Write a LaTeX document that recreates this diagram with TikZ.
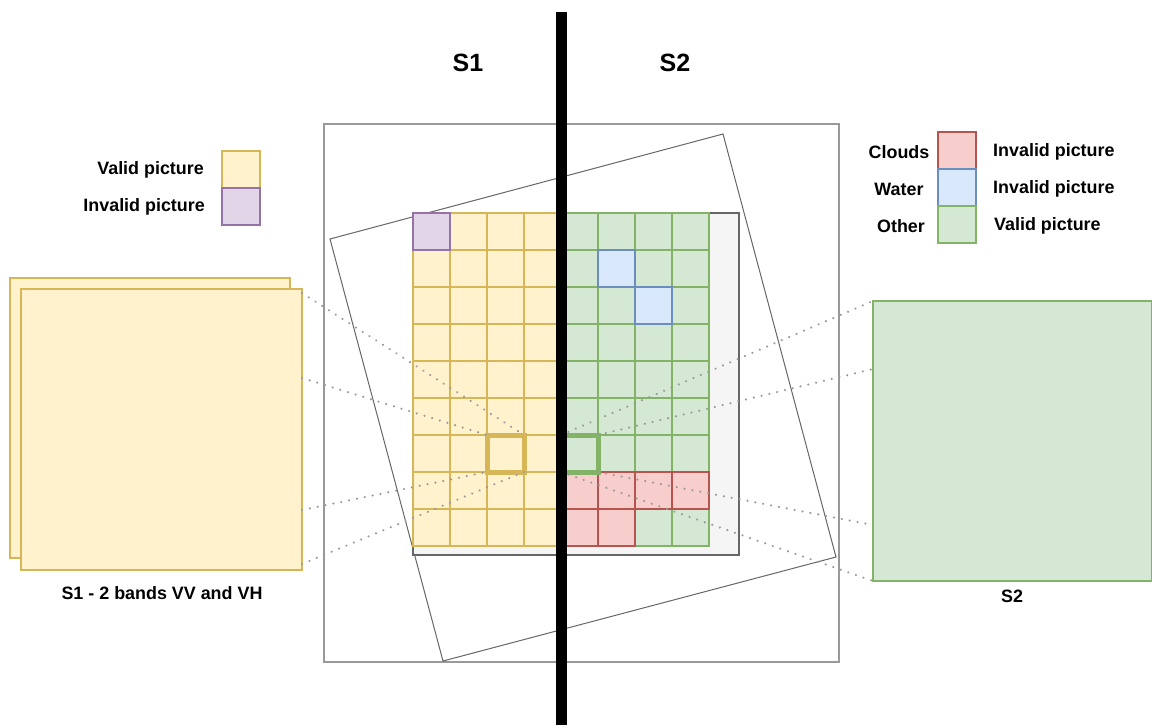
\documentclass[tikz,border=0pt]{standalone}
\usepackage{fontspec}
\setmainfont{Liberation Sans}
\definecolor{yfill}{HTML}{FFF2CC}
\definecolor{ydraw}{HTML}{D6B656}
\definecolor{gfill}{HTML}{D5E8D4}
\definecolor{gdraw}{HTML}{82B366}
\definecolor{rfill}{HTML}{F8CECC}
\definecolor{rdraw}{HTML}{B85450}
\definecolor{bfill}{HTML}{DAE8FC}
\definecolor{bdraw}{HTML}{6C8EBF}
\definecolor{pfill}{HTML}{E1D5E7}
\definecolor{pdraw}{HTML}{9673A6}
\definecolor{greyfill}{HTML}{F5F5F5}
\definecolor{greydraw}{HTML}{666666}
\definecolor{framecol}{HTML}{999999}
\definecolor{dotcol}{HTML}{999999}
\begin{document}
\begin{tikzpicture}[x=1pt,y=-1pt,line join=miter]
\useasboundingbox (0,0) rectangle (1152,725);
\tikzset{
  lbl/.style={font=\bfseries\fontsize{17.9}{20}\selectfont, inner sep=0pt},
  biglbl/.style={font=\bfseries\fontsize{25}{28}\selectfont, inner sep=0pt},
  box/.style={inner sep=0pt, outer sep=0pt, anchor=north west},
  framebox/.style={box, draw=framecol, line width=1.2pt},
  ycell/.style={fill=yfill, draw=ydraw, line width=1.3pt},
  gcell/.style={fill=gfill, draw=gdraw, line width=1.3pt},
  rcell/.style={fill=rfill, draw=rdraw, line width=1.3pt},
  bcell/.style={fill=bfill, draw=bdraw, line width=1.3pt},
  pcell/.style={fill=pfill, draw=pdraw, line width=1.3pt},
  hibox/.style={box, line width=5pt, minimum width=37pt, minimum height=37pt},
  dots/.style={draw=dotcol, line width=2.4pt, line cap=round, dash pattern=on 0.01pt off 8pt},
}
% outer frame and rotated scene
\node[framebox, minimum width=515pt, minimum height=538pt] (outer) at (324,124) {};
\draw[draw=greydraw, line width=1pt] (330,239) -- (723,134) -- (836,557) -- (443,661) -- cycle;
% grey grid background
\node[box, fill=greyfill, draw=greydraw, line width=1.3pt, minimum width=326pt, minimum height=342pt] (gridbg) at (413,213) {};
% cells
\foreach \c in {0,...,3}{\foreach \r in {0,...,8}{
  \draw[ycell] ({413+37*\c},{213+37*\r}) rectangle +(37,37);}}
\foreach \c in {4,...,7}{\foreach \r in {0,...,8}{
  \draw[gcell] ({413+37*\c},{213+37*\r}) rectangle +(37,37);}}
\draw[pcell] (413,213) rectangle +(37,37);
\draw[bcell] ({413+37*5},{213+37*1}) rectangle +(37,37);
\draw[bcell] ({413+37*6},{213+37*2}) rectangle +(37,37);
\foreach \c in {4,...,7}{\draw[rcell] ({413+37*\c},{213+37*7}) rectangle +(37,37);}
\foreach \c in {4,5}{\draw[rcell] ({413+37*\c},{213+37*8}) rectangle +(37,37);}
% highlighted cells
\node[hibox, draw=ydraw] (hy) at (487,435) {};
\node[hibox, draw=gdraw] (hg) at (561,435) {};
% left stacked squares
\node[box, fill=yfill, draw=ydraw, line width=1.3pt, minimum width=280pt, minimum height=280pt] (s1back) at (10,278) {};
\node[box, fill=yfill, draw=ydraw, line width=1.3pt, minimum width=281pt, minimum height=281pt] (s1front) at (21,289) {};
\node[lbl] (s1lbl) at (162,593) {S1 - 2 bands VV and VH};
% right square
\node[box, fill=gfill, draw=gdraw, line width=1.3pt, minimum width=279pt, minimum height=280pt] (s2sq) at (873,301) {};
\node[lbl] (s2lbl) at (1012,596) {S2};
% dotted connectors
\coordinate (la) at (302,293);
\coordinate (lb) at (302,378);
\coordinate (lc) at (302,510);
\coordinate (ld) at (302,564);
\coordinate (rb) at (873,369);
\coordinate (rc) at (873,525);
\draw[dots] (la) -- (hy.north east);
\draw[dots] (lb) -- (hy.north west);
\draw[dots] (lc) -- (hy.south west);
\draw[dots] (ld) -- (hy.south east);
\draw[dots] (hg.north west) -- (s2sq.north west);
\draw[dots] (hg.north east) -- (rb);
\draw[dots] (hg.south east) -- (rc);
\draw[dots] (hg.south west) -- (s2sq.south west);
% divider bar
\fill[black] (556,12) rectangle (567,725);
\node[biglbl] (t1) at (468,63) {S1};
\node[biglbl] (t2) at (675,63) {S2};
% left legend
\node[box, fill=yfill, draw=ydraw, line width=1.2pt, minimum width=38pt, minimum height=37pt] (ly) at (222,151) {};
\node[box, fill=pfill, draw=pdraw, line width=1.2pt, minimum width=38pt, minimum height=37pt] (lp) at (222,188) {};
\node[lbl, anchor=east] (lyt) at (204,170) {Valid picture};
\node[lbl, anchor=east] (lpt) at (205,207) {Invalid picture};
% right legend
\node[box, fill=rfill, draw=rdraw, line width=1.2pt, minimum width=38pt, minimum height=37pt] (lr) at (938,132) {};
\node[box, fill=bfill, draw=bdraw, line width=1.2pt, minimum width=38pt, minimum height=37pt] (lb2) at (938,169) {};
\node[box, fill=gfill, draw=gdraw, line width=1.2pt, minimum width=38pt, minimum height=37pt] (lg) at (938,206) {};
\node[lbl] (lrt) at (899,152) {Clouds};
\node[lbl] (lbt) at (899,189) {Water};
\node[lbl] (lgt) at (901,226) {Other};
\node[lbl, anchor=west] (lrt2) at (993,152) {Invalid picture};
\node[lbl, anchor=west] (lbt2) at (993,189) {Invalid picture};
\node[lbl, anchor=west] (lgt2) at (994,226) {Valid picture};
\end{tikzpicture}
\end{document}
